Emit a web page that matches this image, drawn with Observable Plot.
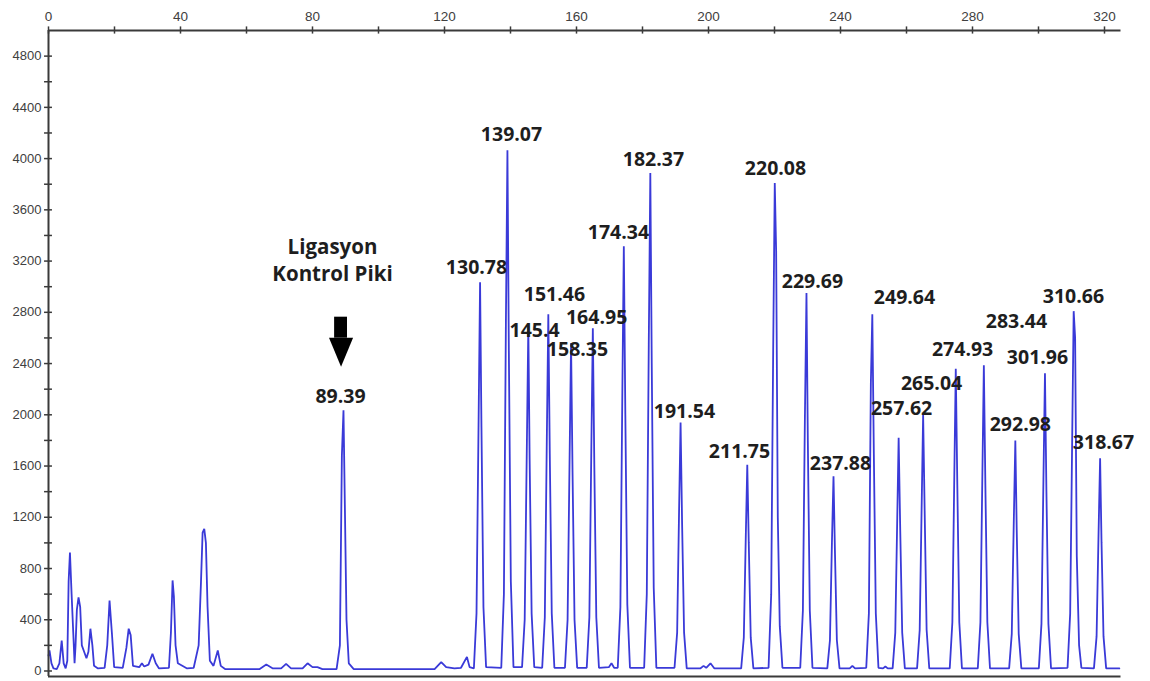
<!DOCTYPE html>
<html>
<head>
<meta charset="utf-8">
<script src="https://cdn.jsdelivr.net/npm/d3@7"></script>
<script src="https://cdn.jsdelivr.net/npm/@observablehq/plot@0.6"></script>
<style>
  html, body { margin: 0; padding: 0; background: #fff; }
  #chart { width: 1150px; height: 681px; }
</style>
</head>
<body>
<div id="chart"></div>
<script>
// ---- DATA ----
// Labelled peaks (fragment size) and their heights (RFU)
const peakLabels = ["89.39","130.78","139.07","145.4","151.46","158.35","164.95","174.34","182.37","191.54",
  "211.75","220.08","229.69","237.88","249.64","257.62","265.04","274.93","283.44","292.98","301.96","310.66","318.67"];
const peakSizes = [89.39,130.78,139.07,145.4,151.46,158.35,164.95,174.34,182.37,191.54,
  211.75,220.08,229.69,237.88,249.64,257.62,265.04,274.93,283.44,292.98,301.96,310.66,318.67];
const peakHeights = [2035,3035,4066,2690,2785,2560,2675,3316,3887,1940,
  1610,3809,2950,1520,2785,1820,2000,2360,2387,1800,2324,2809,1660];

// Electropherogram trace: [size, RFU]
const trace = [
  [0.0,120],[0.3,160],[0.9,60],[1.5,20],[2.5,15],[3.3,60],[4.0,238],[4.6,60],[5.2,20],[5.7,80],
  [6.1,700],[6.5,925],[7.0,600],[7.5,300],[7.9,60],[8.2,200],[8.6,480],[9.1,575],[9.6,500],[10.1,200],
  [10.8,150],[11.5,100],[12.1,150],[12.7,330],[13.3,200],[13.8,40],[15.0,20],[17.0,25],[17.8,200],[18.5,550],
  [19.2,300],[19.9,30],[22.5,25],[23.6,180],[24.3,330],[24.9,280],[25.6,40],[27.5,30],[28.3,60],[29.0,35],
  [30.3,50],[31.5,135],[32.5,60],[33.5,20],[36.5,25],[37.1,300],[37.6,707],[38.0,580],[38.5,200],[39.2,60],
  [42.0,20],[44.0,25],[45.5,200],[46.2,690],[46.7,1080],[47.2,1110],[47.7,1000],[48.2,500],[48.9,80],[50.0,40],
  [51.3,160],[52.2,40],[53.5,15],[64.0,15],[66.0,50],[68.0,20],[70.5,20],[72.0,55],[73.5,20],[77.0,20],
  [78.5,60],[80.0,30],[81.5,30],[83.0,15],[87.3,15],[88.3,200],[88.9,1680],[89.39,2035],[89.8,1300],[90.3,400],
  [91.0,60],[92.5,15],[117.0,15],[119.0,70],[120.5,30],[123.0,20],[125.0,25],[126.8,110],[127.6,30],[128.9,20],
  [129.7,450],[130.35,2000],[130.78,3035],[131.2,1900],[131.8,500],[132.6,30],
  [137.2,25],[138.0,600],[138.6,2700],[139.07,4066],[139.5,2500],[140.1,700],[140.9,30],
  [143.5,30],[144.3,400],[144.95,1750],[145.4,2690],[145.8,1650],[146.4,450],[147.2,30],
  [149.6,25],[150.4,420],[151.0,1800],[151.46,2785],[151.9,1700],[152.5,450],[153.3,25],
  [156.5,25],[157.3,400],[157.9,1650],[158.35,2560],[158.8,1550],[159.4,400],[160.2,25],
  [163.1,25],[163.9,420],[164.5,1750],[164.95,2675],[165.4,1600],[166.0,420],[166.8,25],
  [169.8,30],[170.6,60],[171.4,25],
  [172.5,25],[173.3,500],[173.9,2200],[174.34,3316],[174.8,2000],[175.4,520],[176.2,25],
  [180.5,25],[181.3,600],[181.9,2550],[182.37,3887],[182.8,2400],[183.4,650],[184.2,25],
  [189.7,25],[190.5,300],[191.1,1280],[191.54,1940],[192.0,1150],[192.6,300],[193.4,20],
  [197.5,20],[198.5,40],[199.3,25],[200.6,60],[201.8,20],
  [209.9,20],[210.7,260],[211.3,1050],[211.75,1610],[212.2,1000],[212.8,260],[213.6,20],
  [218.2,25],[219.0,600],[219.6,2500],[220.08,3809],[220.5,3280],[221.0,1200],[221.6,350],[222.4,25],
  [227.8,25],[228.6,470],[229.2,1950],[229.69,2950],[230.1,1800],[230.7,470],[231.5,25],
  [236.0,20],[236.8,240],[237.4,1000],[237.88,1520],[238.3,950],[238.9,240],[239.7,20],
  [242.8,20],[243.6,40],[244.4,20],
  [247.8,25],[248.6,450],[249.2,2250],[249.64,2785],[250.1,1700],[250.7,450],[251.5,25],
  [252.9,20],[253.6,35],[254.3,20],
  [255.8,20],[256.6,300],[257.2,1200],[257.62,1820],[258.1,1100],[258.7,300],[259.5,20],
  [263.2,20],[264.0,320],[264.6,1300],[265.04,2000],[265.5,1250],[266.1,320],[266.9,20],
  [273.1,20],[273.9,380],[274.5,1550],[274.93,2360],[275.4,1450],[276.0,380],[276.8,20],
  [281.6,20],[282.4,380],[283.0,1550],[283.44,2387],[283.9,1450],[284.5,380],[285.3,20],
  [291.1,20],[291.9,290],[292.5,1150],[292.98,1800],[293.4,1100],[294.0,290],[294.8,20],
  [300.1,20],[300.9,370],[301.5,1500],[301.96,2324],[302.4,1400],[303.0,370],[303.8,20],
  [308.8,25],[309.6,450],[310.2,1800],[310.66,2809],[311.1,2600],[311.6,900],[312.3,200],[313.0,25],
  [316.8,20],[317.6,270],[318.2,1080],[318.67,1660],[319.1,1000],[319.7,270],[320.5,20],[324.5,20]
];

// Axis ticks
const xMinorTicks = [0,20,40,60,80,100,120,140,160,180,200,220,240,260,280,300,320];
const xTickLabels = [0,40,80,120,160,200,240,280,320];
const yMinorTicks = [0,200,400,600,800,1000,1200,1400,1600,1800,2000,2200,2400,2600,2800,3000,3200,3400,3600,3800,4000,4200,4400,4600,4800];
const yTickLabels = [0,400,800,1200,1600,2000,2400,2800,3200,3600,4000,4400,4800];

const annotationTitle = "Ligasyon\nKontrol Piki";

// ---- LAYOUT (annotation placement, in data units) ----
const labelPos = [
  [88.5,2137],[129.7,3145],[140.3,4184],[147.3,2660],[153.3,2934],[160.3,2504],[166.1,2754],[172.7,3418],[183.3,3988],[192.7,2027],
  [209.4,1715],[220.3,3918],[231.5,3035],[240.0,1621],[259.4,2910],[258.5,2051],[267.6,2246],[277.0,2504],[293.3,2723],[294.5,1926],
  [299.7,2449],[310.6,2918],[319.7,1785]
];

const traceData = trace.map(([x, y]) => ({x, y}));
const labelData = peakLabels.map((t, i) => ({t, size: peakSizes[i], h: peakHeights[i], x: labelPos[i][0], y: labelPos[i][1]}));

const Y0 = -43, Y1 = 5000, X0 = 0, X1 = 325;
const axisColor = "#3a3a3a";
const tickFont = "'Liberation Sans', Arial, sans-serif";
const labelFont = "'Open Sans', 'DejaVu Sans', sans-serif";

const chart = Plot.plot({
  width: 1150,
  height: 681,
  marginTop: 30,
  marginLeft: 48,
  marginRight: 29.5,
  marginBottom: 5,
  x: {domain: [X0, X1]},
  y: {domain: [Y0, Y1]},
  style: {background: "#fff", fontFamily: tickFont, overflow: "visible"},
  marks: [
    // trace
    Plot.line(traceData, {x: "x", y: "y", stroke: "#3a3ad8", strokeWidth: 1.8, strokeLinejoin: "miter"}),
    // axis lines
    Plot.ruleX([X0], {y1: Y0, y2: Y1, stroke: axisColor, strokeWidth: 2}),
    Plot.ruleY([Y1], {x1: X0, x2: X1, stroke: axisColor, strokeWidth: 2}),
    Plot.ruleY([Y0], {x1: X0, x2: X1, stroke: axisColor, strokeWidth: 2}),
    // tick marks crossing the axis lines
    Plot.ruleX(xMinorTicks, {x: d => d, y1: Y1 - 28, y2: Y1 + 28, stroke: axisColor, strokeWidth: 1.5}),
    Plot.ruleY(yMinorTicks, {y: d => d, x1: X0 - 1.2, x2: X0 + 1.2, stroke: axisColor, strokeWidth: 1.5}),
    // tick labels
    Plot.axisX(xTickLabels, {anchor: "top", label: null, tickSize: 0, tickPadding: 10, fontSize: 13.5, fill: "#404040", tickFormat: d => String(d)}),
    Plot.axisY(yTickLabels, {anchor: "left", label: null, tickSize: 0, tickPadding: 7, fontSize: 13, fill: "#404040", tickFormat: d => String(d)}),
    // arrow to control peak
    Plot.areaY([{x: 86.7}, {x: 90.6}], {x: "x", y1: 2598, y2: 2762, fill: "#000"}),
    Plot.areaY([{x: 85.15, t: 2598}, {x: 88.8, t: 2371}, {x: 92.45, t: 2598}], {x: "x", y1: 2598, y2: "t", fill: "#000"}),
    // annotation title
    Plot.text([annotationTitle], {x: 86.06, y: 3219, text: d => d, fontSize: 20.5, fontWeight: 700, fill: "#1e1e1e", lineHeight: 1.3, fontFamily: labelFont}),
    // peak labels
    Plot.text(labelData, {x: "x", y: "y", text: "t", fontSize: 19.5, fontWeight: 700, fill: "#1e1e1e", fontFamily: labelFont})
  ]
});

document.getElementById("chart").appendChild(chart);
</script>
</body>
</html>
